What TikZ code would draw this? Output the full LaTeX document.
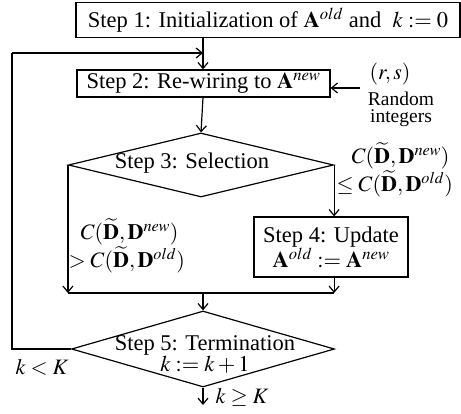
\documentclass[tikz,border=0pt]{standalone}
\usepackage{mathptmx}
\usepackage[no-math]{fontspec}
\setmainfont{Liberation Serif}
\usetikzlibrary{shapes.geometric,arrows.meta}
\begin{document}
\begin{tikzpicture}[x=1pt,y=-1pt,
  line width=1.2pt,
  box/.style={draw, rectangle, inner sep=0pt, line width=1.2pt, font=\fontsize{22.5}{26}\selectfont, align=center},
  dia/.style={draw, diamond, inner sep=0pt, line width=1.2pt},
  txt/.style={inner sep=0pt, font=\fontsize{22.5}{26}\selectfont, align=center},
  lbl/.style={inner sep=0pt, font=\fontsize{22}{25}\selectfont},
  small/.style={inner sep=0pt, font=\fontsize{19.5}{22}\selectfont, align=center},
  arr/.style={-{Straight Barb[length=6pt,width=10pt]}}
]
\useasboundingbox (0,0) rectangle (461,414);

\node[box, minimum width=384pt, minimum height=35pt] (s1) at (268,20)
  {Step 1: Initialization of $\mathbf{A}^{old}$ and \ $k:=0$};
\node[box, minimum width=253pt, minimum height=27pt] (s2) at (203.5,83.5)
  {Step 2: Re-wiring to $\mathbf{A}^{new}$};
\node[dia, minimum width=265pt, minimum height=64pt] (d3) at (201,165) {};
\node[txt] (t3) at (192,163) {Step 3: Selection};
\node[box, minimum width=154pt, minimum height=60pt] (s4) at (331,247)
  {Step 4: Update\\[-1pt] $\mathbf{A}^{old}:=\mathbf{A}^{new}$};
\node[dia, minimum width=263pt, minimum height=76pt] (d5) at (203,349) {};
\node[txt] (t5) at (205,354) {Step 5: Termination\\[-5pt] $k:=k+1$};

\coordinate (m) at (203,53);
\coordinate (lp) at (12,53);
\coordinate (j) at (203,293);
\coordinate (rs) at (360,88);
\coordinate (end) at (203,405);

\draw[arr] (m |- s1.south) -- (m |- s2.north);
\draw[arr] (lp) -- (m);
\draw[arr] (rs) -- (s2.east |- rs);
\draw[arr] (m |- s2.south) -- (d3.north);
\draw[arr] (d3.east) -- (d3.east |- s4.north);
\draw[arr] (d3.west) -- (d3.west |- j);
\draw[arr] (d3.east |- s4.south) -- (d3.east |- j);
\draw (d3.west |- j) -- (d3.east |- j);
\draw[arr] (j) -- (d5.north);
\draw (d5.west) -| (lp);
\draw[arr] (d5.south) -- (end);

\node[lbl] (rsl) at (390,74) {$(r,s)$};
\node[small] (ri) at (401,109) {Random\\[-5pt] integers};
\node[lbl, anchor=west] (c1) at (351,156) {$C(\widetilde{\mathbf{D}},\mathbf{D}^{new})$};
\node[lbl, anchor=west] (c2) at (336,184) {$\le C(\widetilde{\mathbf{D}},\mathbf{D}^{old})$};
\node[lbl, anchor=west] (c3) at (80,232) {$C(\widetilde{\mathbf{D}},\mathbf{D}^{new})$};
\node[lbl, anchor=west] (c4) at (68,260) {$> C(\widetilde{\mathbf{D}},\mathbf{D}^{old})$};
\node[lbl] (kl) at (42,367) {$k<K$};
\node[lbl, anchor=west] (kg) at (215,397) {$k\ge K$};
\end{tikzpicture}
\end{document}
